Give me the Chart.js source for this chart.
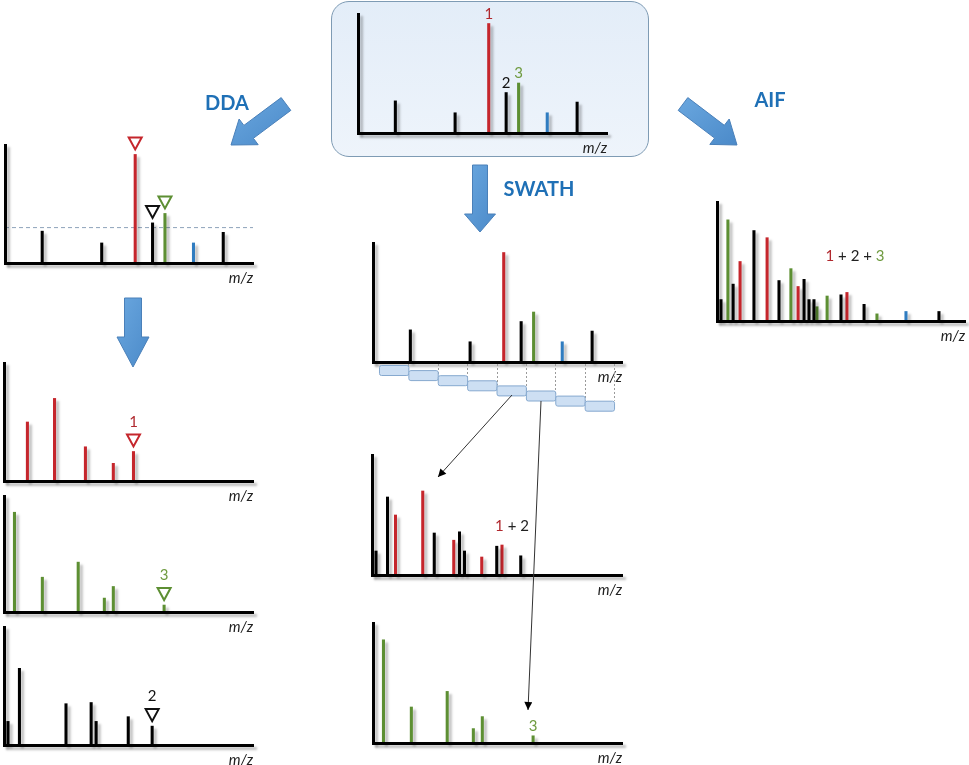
<!DOCTYPE html>
<html><head><meta charset="utf-8">
<script src="https://cdn.jsdelivr.net/npm/chart.js@4.4.1/dist/chart.umd.min.js"></script>
<style>
html,body{margin:0;padding:0;background:#fff;width:969px;height:765px;overflow:hidden;position:relative;font-family:Lato,'Open Sans',sans-serif}
.box{position:absolute;left:331px;top:1px;width:316px;height:154px;border:1.5px solid #7e9bb4;border-radius:18px;background:linear-gradient(#e3edf8,#eef4fb)}
canvas{position:absolute}
.lbl{position:absolute;transform:translate(-50%,-50%);line-height:1;white-space:nowrap}
.method{font-weight:700;font-size:20px;color:#1f70b6}
.combo{font-size:15px;color:#222}
svg{position:absolute;left:0;top:0;pointer-events:none}
</style></head><body>
<div class="box"></div>
<div id="charts"></div>
<svg id="deco" width="969" height="765">
<defs>
<linearGradient id="ag" x1="0" y1="0" x2="1" y2="1"><stop offset="0" stop-color="#6aa7df"/><stop offset="1" stop-color="#4b8ac9"/></linearGradient>
<marker id="ah" viewBox="0 0 10 10" refX="10" refY="5" markerWidth="9" markerHeight="8" orient="auto" markerUnits="userSpaceOnUse"><path d="M0,0 L10,5 L0,10 z" fill="#000"/></marker>
</defs>
<g id="blockArrows"></g>
<line x1="512" y1="395" x2="438" y2="477" stroke="#333" stroke-width="1" marker-end="url(#ah)"/>
<line x1="541" y1="401" x2="528" y2="710" stroke="#333" stroke-width="1" marker-end="url(#ah)"/>
</svg>
<div class="lbl method" style="left:227px;top:102px">DDA</div>
<div class="lbl method" style="left:539px;top:188px">SWATH</div>
<div class="lbl method" style="left:770px;top:99px">AIF</div>
<div class="lbl combo" style="left:512px;top:525px"><span style="color:#b0282e">1</span> + 2</div>
<div class="lbl combo" style="left:855px;top:255px"><span style="color:#b0282e">1</span> + 2 + <span style="color:#6f9b40">3</span></div>
<script>
// ---------------- DATA (m/z as % of axis, intensity as % of axis) ----------------
// MS1 survey spectrum
const precursorMz  = [52.5, 59.5, 64.5];   // precursors 1, 2, 3
const precursorInt = [92, 34, 42];
const ms1OtherMz   = [15, 39, 88];
const ms1OtherInt  = [27, 17, 26];
const ms1BlueMz    = [76];
const ms1BlueInt   = [17];
const ddaThreshold = 30;

// MS2 fragment spectra of precursors 1, 2, 3 (last point = residual precursor)
const frag1Mz  = [9.4, 20.3, 32.7, 43.9, 52];
const frag1Int = [50, 70, 29, 15, 25];
const frag2Mz  = [1.6, 6.2, 24.9, 35, 37, 49.9, 59.5];
const frag2Int = [20, 65, 35, 36, 20, 24, 16];
const frag3Mz  = [4.2, 15.4, 29.8, 40.3, 43.9, 64.3];
const frag3Int = [86, 30, 43, 12, 22, 6];

// AIF spectrum
const aifBlackMz  = [1.6, 6.5, 14.9, 25, 35.1, 37.1, 39.1, 50, 59.3, 89.5];
const aifBlackInt = [18, 31, 76, 34, 35, 18, 18, 22, 14, 8];
const aifRedMz    = [9.3, 20.2, 32.7, 52.4];
const aifRedInt   = [50, 70, 29, 24];
const aifGreenMz  = [4.4, 29.8, 40.3, 44.4, 64.5];
const aifGreenInt = [85, 44, 12, 21, 6];
const aifBlueMz   = [76.2];
const aifBlueInt  = [8];

// SWATH isolation window edges (m/z, % of axis)
const swathEdges = [2.4, 14.2, 26, 37.8, 49.6, 61.4, 73.2, 85, 96.8];

// ---------------- STYLE ----------------
const RED='#c5262c', RED_TXT='#b0282e', GREEN='#5d8f33', GREEN_TXT='#6f9b40', BLUE='#2f7cc0', BLACK='#000';

function bars(mz, inten, color){
  return {type:'bar', data: mz.map((x,i)=>({x:x, y:inten[i]})), backgroundColor:color,
    barThickness:2.4, grouped:false, clip:false, borderWidth:0};
}
function ms1Sets(){
  return [
    bars(ms1OtherMz, ms1OtherInt, BLACK),
    bars(ms1BlueMz, ms1BlueInt, BLUE),
    bars([precursorMz[0]],[precursorInt[0]], RED),
    bars([precursorMz[1]],[precursorInt[1]], BLACK),
    bars([precursorMz[2]],[precursorInt[2]], GREEN)
  ];
}

function setShadow(chart){
  const c = chart.ctx, r = chart.currentDevicePixelRatio || 1;
  c.shadowColor='rgba(0,0,0,0.26)'; c.shadowOffsetX=3*r; c.shadowOffsetY=3*r; c.shadowBlur=2.5*r;
}
const shadowPlugin = {
  id:'stickShadow',
  beforeDatasetDraw(chart,args){ if(chart.data.datasets[args.index].type!=='bar') return; chart.ctx.save(); setShadow(chart); },
  afterDatasetDraw(chart,args){ if(chart.data.datasets[args.index].type!=='bar') return; chart.ctx.restore(); },
  afterDatasetsDraw(chart){ chart.ctx.save(); setShadow(chart); },
  afterDraw(chart){ chart.ctx.restore(); }
};
const marksPlugin = {
  id:'marks',
  afterDraw(chart, args, opts){
    const ctx = chart.ctx;
    // SWATH windows
    if (opts.edges){
      const xs = chart.scales.x, b = chart.chartArea.bottom, e = opts.edges, n = e.length;
      ctx.save();
      ctx.strokeStyle='#9a9a9a'; ctx.lineWidth=1; ctx.setLineDash([2,2]);
      for (let i=1;i<n;i++){
        const px = Math.round(xs.getPixelForValue(e[i]))+0.5;
        const yb = b+3+Math.min(i,n-2)*5.1;
        ctx.beginPath(); ctx.moveTo(px,b+2); ctx.lineTo(px,yb); ctx.stroke();
      }
      ctx.setLineDash([]);
      for (let i=0;i<n-1;i++){
        const x0 = xs.getPixelForValue(e[i]), x1 = xs.getPixelForValue(e[i+1]);
        const y0 = b+3+i*5.1;
        ctx.beginPath(); ctx.roundRect(x0+0.5, y0+0.5, x1-x0, 10, 2);
        ctx.fillStyle='#cddff3'; ctx.fill();
        ctx.strokeStyle='#86a9cf'; ctx.stroke();
      }
      ctx.restore();
    }
    (opts.marks||[]).forEach(m=>{
      const el = chart.getDatasetMeta(m.ds).data[m.i];
      if(!el) return;
      const x = el.x; let top = el.y;
      ctx.save();
      if (m.tri){
        const apex = top-5, h = 12, w = 13;
        ctx.beginPath(); ctx.moveTo(x-w/2, apex-h); ctx.lineTo(x+w/2, apex-h); ctx.lineTo(x, apex); ctx.closePath();
        ctx.lineWidth=2; ctx.strokeStyle=m.color; ctx.lineJoin='miter'; ctx.stroke();
        top = apex-h-3;
      }
      if (m.text){
        ctx.font='15px Lato, "Open Sans", sans-serif';
        ctx.fillStyle=m.textColor||m.color; ctx.textAlign='center'; ctx.textBaseline='alphabetic';
        ctx.fillText(m.text, x, top-5);
      }
      ctx.restore();
    });
  }
};

const TITLE_FONT = {family:'Lato', style:'italic', size:15, lineHeight:1.2};
const TITLE_H = 15*1.2 + 6;
function makePanel(box, datasets, plug, padBottom){
  const PL = Math.min(12, box.l), PT = 26, PR = 14, PB = padBottom||4;
  const W = box.w+PL+PR, H = box.h+PT+TITLE_H+PB;
  const cv = document.createElement('canvas');
  cv.width=W; cv.height=H;
  cv.style.left=(box.l-PL)+'px'; cv.style.top=(box.t-PT)+'px';
  cv.style.width=W+'px'; cv.style.height=H+'px';
  document.getElementById('charts').appendChild(cv);
  new Chart(cv, {
    type:'bar',
    data:{datasets:datasets},
    options:{
      responsive:false, animation:false, events:[],
      layout:{padding:{left:PL, top:PT, right:PR, bottom:PB}},
      scales:{
        x:{type:'linear', min:0, max:100, offset:false,
           grid:{display:false, drawTicks:false}, ticks:{display:false},
           border:{display:true, color:'#000', width:3, z:1},
           title:{display:true, text:'m/z', align:'end', color:'#222', font:TITLE_FONT, padding:{top:6,bottom:0}}},
        y:{type:'linear', min:0, max:100,
           grid:{display:false, drawTicks:false}, ticks:{display:false},
           border:{display:true, color:'#000', width:3, z:1}}
      },
      plugins:{legend:{display:false}, tooltip:{enabled:false}, marks:plug||{}}
    },
    plugins:[shadowPlugin, marksPlugin]
  });
}

// Top MS1 survey
makePanel({l:358,t:14,w:249,h:119}, ms1Sets(), {marks:[
  {ds:2,i:0,text:'1',color:RED_TXT},{ds:3,i:0,text:'2',color:'#111'},{ds:4,i:0,text:'3',color:GREEN_TXT}]});

// DDA MS1 with threshold
const ddaSets = ms1Sets();
ddaSets.push({type:'line', data:[{x:0,y:ddaThreshold},{x:100,y:ddaThreshold}], borderColor:'#8ea3ba',
  borderWidth:1, borderDash:[4,3], pointRadius:0, clip:false, order:5});
makePanel({l:5,t:145,w:248,h:118}, ddaSets, {marks:[
  {ds:2,i:0,tri:true,color:RED},{ds:3,i:0,tri:true,color:'#111'},{ds:4,i:0,tri:true,color:GREEN}]});

// DDA MS2 spectra
makePanel({l:4,t:363,w:249,h:118}, [bars(frag1Mz,frag1Int,RED)], {marks:[{ds:0,i:4,tri:true,text:'1',color:RED,textColor:RED_TXT}]});
makePanel({l:4,t:496,w:249,h:116}, [bars(frag3Mz,frag3Int,GREEN)], {marks:[{ds:0,i:5,tri:true,text:'3',color:GREEN,textColor:GREEN_TXT}]});
makePanel({l:4,t:627,w:249,h:118}, [bars(frag2Mz,frag2Int,BLACK)], {marks:[{ds:0,i:6,tri:true,text:'2',color:'#111'}]});

// SWATH MS1 with windows
makePanel({l:373,t:243,w:249,h:119}, ms1Sets(), {edges:swathEdges}, 30);
// SWATH MS2
makePanel({l:372,t:455,w:250,h:120}, [bars(frag2Mz,frag2Int,BLACK), bars(frag1Mz,frag1Int,RED)], {});
makePanel({l:373,t:623,w:249,h:120}, [bars(frag3Mz,frag3Int,GREEN)], {marks:[{ds:0,i:5,text:'3',color:GREEN_TXT}]});

// AIF
makePanel({l:717,t:202,w:248,h:119}, [
  bars(aifBlackMz,aifBlackInt,BLACK), bars(aifRedMz,aifRedInt,RED),
  bars(aifGreenMz,aifGreenInt,GREEN), bars(aifBlueMz,aifBlueInt,BLUE)], {});

// Block arrows (decoration)
function blockArrow(x1,y1,x2,y2,sw,hw,hl){
  const dx=x2-x1, dy=y2-y1, L=Math.hypot(dx,dy), ux=dx/L, uy=dy/L, nx=-uy, ny=ux;
  const bx=x2-ux*hl, by=y2-uy*hl;
  const p=[[x1+nx*sw/2,y1+ny*sw/2],[bx+nx*sw/2,by+ny*sw/2],[bx+nx*hw/2,by+ny*hw/2],[x2,y2],
           [bx-nx*hw/2,by-ny*hw/2],[bx-nx*sw/2,by-ny*sw/2],[x1-nx*sw/2,y1-ny*sw/2]];
  const poly=document.createElementNS('http://www.w3.org/2000/svg','polygon');
  poly.setAttribute('points', p.map(q=>q[0].toFixed(1)+','+q[1].toFixed(1)).join(' '));
  poly.setAttribute('fill','url(#ag)'); poly.setAttribute('stroke','#4a80b9'); poly.setAttribute('stroke-width','1');
  document.getElementById('blockArrows').appendChild(poly);
}
blockArrow(286,104,231,145,16,32,22);
blockArrow(683,104,737,145,16,32,22);
blockArrow(480,165,480,232,15,31,18);
blockArrow(133,298,133,367,17,32,30);
</script>
</body></html>
